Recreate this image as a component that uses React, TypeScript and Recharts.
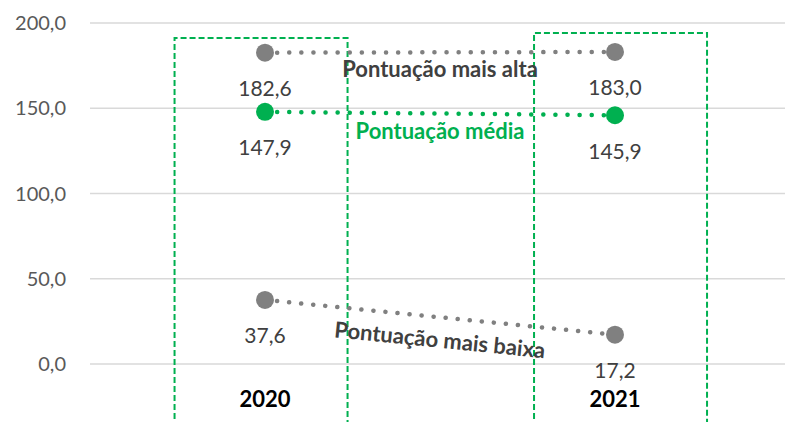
import React from 'react';
import { ComposedChart, Line, Bar, XAxis, YAxis, CartesianGrid, LabelList, ReferenceDot } from 'recharts';

const years = ['2020', '2021'];
const maisAlta = [182.6, 183.0];
const media = [147.9, 145.9];
const maisBaixa = [37.6, 17.2];
const destaque = [191.2, 194.2];
const yTicks = [0, 50, 100, 150, 200];

const GRAY = '#808080';
const GREEN = '#00B050';
const TEXT = '#404040';

const data = years.map((y, i) => ({
  x: i,
  year: y,
  alta: maisAlta[i],
  media: media[i],
  baixa: maisBaixa[i],
  box: destaque[i],
}));

const fmt = (v: number) => v.toFixed(1).replace('.', ',');

const ValueLabel = (props: any) => {
  const { x, y, value } = props;
  return (
    <text x={x} y={y + 35} textAnchor="middle" dominantBaseline="central" fontSize={21} fill={TEXT}>
      {fmt(Number(value))}
    </text>
  );
};

const BoxShape = (props: any) => {
  const { x, y, width, height } = props;
  const bottom = y + height + 100;
  return (
    <path
      d={`M${x},${bottom} V${y} H${x + width} V${bottom}`}
      fill="none"
      stroke={GREEN}
      strokeWidth={2}
      strokeDasharray="6 3"
    />
  );
};

const nameShape = (text: string, color: string, dy: number, angle: number) => (p: any) => {
  const cx = p.cx;
  const cy = p.cy + dy;
  return (
    <text
      x={cx}
      y={cy}
      textAnchor="middle"
      dominantBaseline="central"
      fontSize={22}
      fontWeight={700}
      fill={color}
      transform={angle ? `rotate(${angle}, ${cx}, ${cy})` : undefined}
    >
      {text}
    </text>
  );
};

export default function App() {
  return (
    <div style={{ position: 'absolute', left: 0, top: 0, width: 785, height: 422, overflow: 'hidden', background: '#fff', fontFamily: 'Lato, sans-serif' }}>
      <ComposedChart width={800} height={422} data={data} margin={{ top: 23, right: 10, bottom: 0, left: 0 }}>
        <CartesianGrid vertical={false} stroke="#D9D9D9" strokeWidth={1.5} />
        <XAxis
          type="number"
          dataKey="x"
          domain={[-0.5, 1.5]}
          ticks={[0, 1]}
          tickFormatter={(i: number) => years[i]}
          axisLine={false}
          tickLine={false}
          tickMargin={21}
          height={58}
          tick={{ fontSize: 22, fontWeight: 700, fill: '#000' }}
        />
        <XAxis xAxisId="box" type="number" dataKey="x" domain={[-0.4765, 1.4707]} hide allowDataOverflow />
        <YAxis
          domain={[0, 200]}
          ticks={yTicks}
          tickFormatter={(v: number) => fmt(v)}
          axisLine={false}
          tickLine={false}
          tickMargin={18}
          width={90}
          tick={{ fontSize: 20, fill: '#595959' }}
        />
        <Bar xAxisId="box" dataKey="box" barSize={173} shape={<BoxShape />} isAnimationActive={false} />
        <Line
          dataKey="alta"
          stroke={GRAY}
          strokeWidth={4.5}
          strokeDasharray="0.1 12"
          strokeLinecap="round"
          dot={{ r: 9, fill: GRAY, stroke: 'none', strokeDasharray: '' }}
          activeDot={false}
          isAnimationActive={false}
        >
          <LabelList dataKey="alta" content={<ValueLabel />} />
        </Line>
        <Line
          dataKey="media"
          stroke={GREEN}
          strokeWidth={4.5}
          strokeDasharray="0.1 12"
          strokeLinecap="round"
          dot={{ r: 9, fill: GREEN, stroke: 'none', strokeDasharray: '' }}
          activeDot={false}
          isAnimationActive={false}
        >
          <LabelList dataKey="media" content={<ValueLabel />} />
        </Line>
        <Line
          dataKey="baixa"
          stroke={GRAY}
          strokeWidth={4.5}
          strokeDasharray="0.1 12"
          strokeLinecap="round"
          dot={{ r: 9, fill: GRAY, stroke: 'none', strokeDasharray: '' }}
          activeDot={false}
          isAnimationActive={false}
        >
          <LabelList dataKey="baixa" content={<ValueLabel />} />
        </Line>
        <ReferenceDot x={0.5} y={(maisAlta[0] + maisAlta[1]) / 2} r={0} shape={nameShape('Pontuação mais alta', TEXT, 16, 0)} />
        <ReferenceDot x={0.5} y={(media[0] + media[1]) / 2} r={0} shape={nameShape('Pontuação média', GREEN, 17, 0)} />
        <ReferenceDot x={0.5} y={(maisBaixa[0] + maisBaixa[1]) / 2} r={0} shape={nameShape('Pontuação mais baixa', TEXT, 22, 5.7)} />
      </ComposedChart>
    </div>
  );
}
